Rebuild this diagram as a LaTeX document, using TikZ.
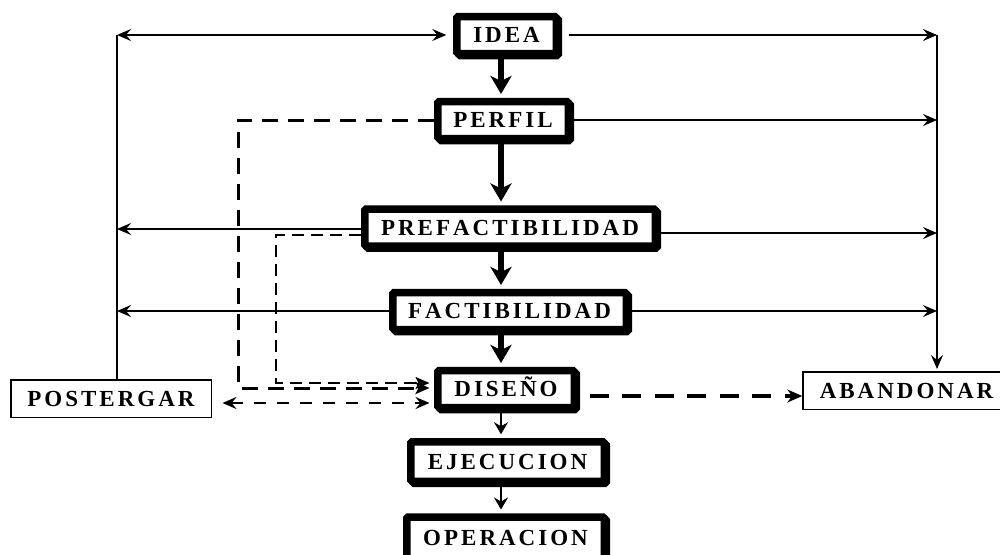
\documentclass[tikz,border=0pt]{standalone}
\usepackage{fontspec}
\setmainfont{Liberation Serif}
\usetikzlibrary{arrows.meta}
\def\spacedword#1{\spacedwordi#1\relax\kern-3pt}
\def\spacedwordi#1{\ifx#1\relax\else#1\kern3pt\expandafter\spacedwordi\fi}
\tikzset{
 lbl/.style={font=\bfseries\fontsize{23}{27}\selectfont, text height=15.2pt, text depth=0pt, inner sep=0pt},
 mainbox/.style={lbl, draw, fill=white, line width=7.5pt, minimum height=37pt, rounded corners=1.5pt,
   preaction={draw, line width=7.5pt, transform canvas={shift={(2pt,-2pt)}}}},
 sidebox/.style={lbl, draw, fill=white, line width=1.5pt, minimum height=37.5pt},
 thinline/.style={line width=1.7pt},
 thintip/.style={-{Stealth[length=14pt,width=12pt,inset=5pt]}},
 spinethick/.style={line width=6.5pt, -{Stealth[length=18pt,width=21pt,inset=5pt]}},
 spinethin/.style={line width=2pt, -{Stealth[length=12pt,width=14pt,inset=4pt]}},
 dashA/.style={line width=3pt, dash pattern=on 16pt off 10pt},
 dashB/.style={line width=2.3pt, dash pattern=on 12pt off 7pt},
 dashC/.style={line width=2.3pt, dash pattern=on 12pt off 11pt},
 dashD/.style={line width=3.8pt, dash pattern=on 19pt off 13.5pt},
 dtip/.style={-{Stealth[length=14pt,width=12pt,inset=3pt]}},
}
\begin{document}
\begin{tikzpicture}[x=1pt,y=-1pt]
\useasboundingbox (0,0) rectangle (1000,554);
% helper coordinates
\coordinate (lv) at (117,0);
\coordinate (rv) at (937,0);
\coordinate (sp) at (501,0);
\coordinate (d1) at (238,0);
\coordinate (d2) at (276,0);
\coordinate (y229) at (0,229);
\coordinate (y233) at (0,233);
\coordinate (y235) at (0,235);
\coordinate (y383) at (0,383);
\coordinate (y388) at (0,388);
\coordinate (y403) at (0,403);
\coordinate (y396) at (0,396);
% nodes
\node[mainbox, minimum width=99.5pt]  (idea) at (506.5,35)  {\spacedword{IDEA}};
\node[mainbox, minimum width=130.5pt] (perf) at (503,120)   {\spacedword{PERFIL}};
\node[mainbox, minimum width=290.5pt] (pref) at (510,227.5) {\spacedword{PREFACTIBILIDAD}};
\node[mainbox, minimum width=233.5pt] (fact) at (509.5,311) {\spacedword{FACTIBILIDAD}};
\node[mainbox, minimum width=136.5pt] (dis)  at (506,389)   {\spacedword{DISEÑO}};
\node[mainbox, minimum width=193.5pt, minimum height=39.5pt] (ejec) at (507.5,461.5) {\spacedword{EJECUCION}};
\node[mainbox, minimum width=197.5pt, minimum height=42pt] (oper) at (505.5,538) {\spacedword{OPERACION}};
\node[sidebox, minimum width=200.5pt] (post) at (111,398.5) {\spacedword{POSTERGAR}};
\node[sidebox, minimum width=207pt]   (aban) at (906.5,390.5) {\spacedword{ABANDONAR}};
% left side
\draw[thinline, {Stealth[length=14pt,width=12pt,inset=5pt]}-{Stealth[length=14pt,width=12pt,inset=5pt]}, shorten >=6.75pt]
  (lv |- idea.west) -- (idea.west);
\draw[thinline] (lv |- idea.west) -- (post.north -| lv);
\draw[thinline, thintip] (pref.west |- y229) -- (lv |- y229);
\draw[thinline, thintip] (fact.west) -- (lv |- fact.west);
% right side
\draw[thinline, thintip, shorten <=8.75pt] (idea.east) -- (rv |- idea.east);
\draw[thinline, thintip] (perf.east) -- (rv |- perf.east);
\draw[thinline, thintip] (pref.east |- y233) -- (rv |- y233);
\draw[thinline, thintip] (fact.east) -- (rv |- fact.east);
\draw[thinline, thintip, shorten >=2pt] (rv |- idea.east) -- (rv |- aban.north);
% spine
\draw[spinethick, shorten >=3.75pt] (idea.south -| sp) -- (perf.north -| sp);
\draw[spinethick, shorten >=3.75pt] (perf.south -| sp) -- (pref.north -| sp);
\draw[spinethick, shorten >=3.75pt] (pref.south -| sp) -- (fact.north -| sp);
\draw[spinethick, shorten >=3.75pt] (fact.south -| sp) -- (dis.north -| sp);
\draw[spinethin, shorten >=3.75pt] (dis.south -| sp) -- (ejec.north -| sp);
\draw[spinethin, shorten >=3.75pt] (ejec.south -| sp) -- (oper.north -| sp);
% dashed connectors
\draw[dashA, dtip, shorten >=4.5pt] (perf.west) -| (d1 |- y388) -- (dis.west |- y388);
\draw[dashB, dtip, shorten >=4.5pt] (pref.west |- y235) -| (d2 |- y383) -- (dis.west |- y383);
\draw[dashC, {Stealth[length=14pt,width=12pt,inset=5pt]}-{Stealth[length=14pt,width=12pt,inset=5pt]}, shorten <=10.5pt, shorten >=4.5pt]
  (post.east |- y403) -- (dis.west |- y403);
\draw[dashD, -{Stealth[length=15pt,width=13pt,inset=5pt]}, shorten <=11.75pt] (dis.east |- y396) -- (aban.west |- y396);
\end{tikzpicture}
\end{document}
